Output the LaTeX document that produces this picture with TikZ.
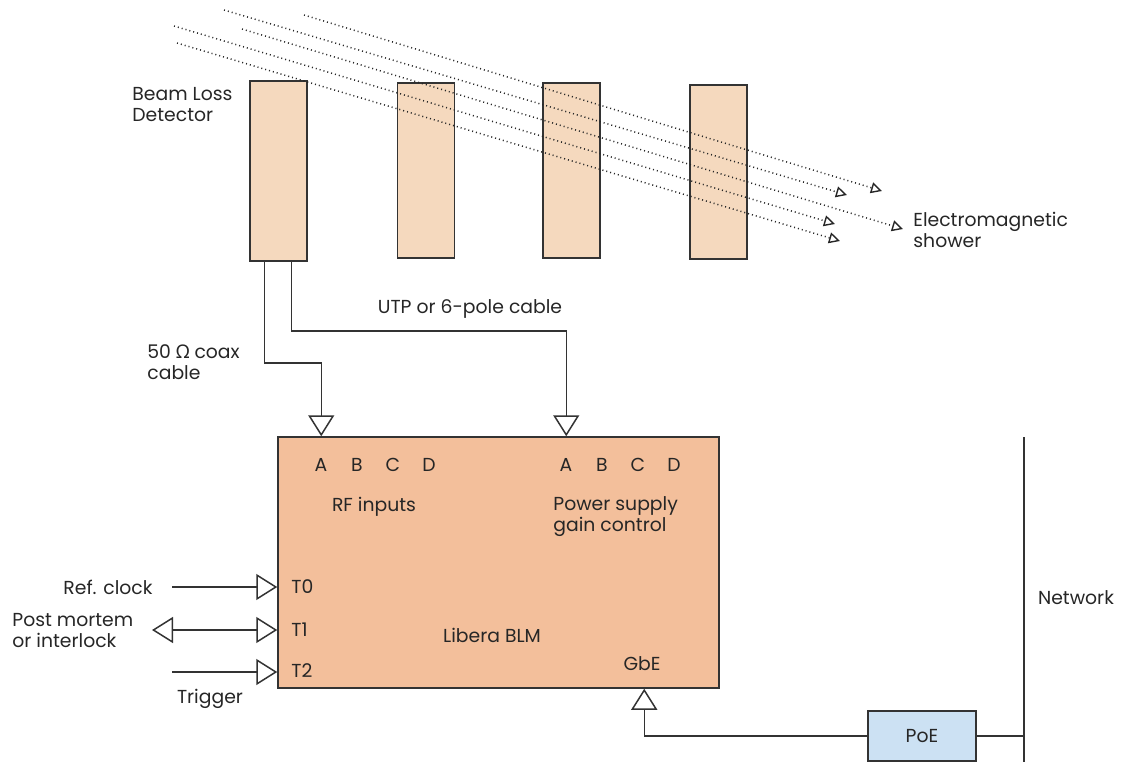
\documentclass[tikz,border=0pt]{standalone}
\usepackage{fontspec}
\setmainfont{Poppins}
\newfontfamily\greekfont{Noto Sans}
\usetikzlibrary{arrows.meta,calc}

\begin{document}
\begin{tikzpicture}[x=0.5pt,y=-0.5pt,
    font=\fontsize{9.4}{10.5}\selectfont,
    every node/.style={text=black!85},
    detbox/.style={draw=black!80, fill=detcolor, line width=0.7pt, minimum width=28.5pt, minimum height=88pt, inner sep=0pt},
    cable/.style={draw=black!80, line width=0.75pt},
    bigtip/.style={-{Triangle[open, length=10.5pt, width=13pt, line width=0.75pt]}},
    bothtip/.style={{Triangle[open, length=10.5pt, width=13pt, line width=0.75pt]}-{Triangle[open, length=10.5pt, width=13pt, line width=0.75pt]}},
    shower/.style={draw=black!85, line width=0.75pt, dash pattern=on 0.5pt off 1.5pt,
        -{Triangle[open, length=5.5pt, width=5.5pt, line width=0.7pt, line cap=butt]}},
    lbl/.style={align=left, inner sep=0pt}]
    % Define the colors
    \definecolor{detcolor}{RGB}{245, 217, 190}
    \definecolor{liberacolor}{RGB}{243, 191, 155}
    \definecolor{poecolor}{RGB}{204, 225, 243}

    \useasboundingbox (0,0) rectangle (1126,762);

    % Draw the Beam Loss Detectors
    \node[detbox, minimum height=90pt] (det1) at (278.5,171) {};
    \node[detbox, minimum height=87.5pt] (det2) at (426,170.5) {};
    \node[detbox, minimum height=87.5pt] (det3) at (571.5,170.5) {};
    \node[detbox, minimum height=87pt] (det4) at (718.5,172) {};
    \node[lbl, anchor=west] (detlabel) at (132,105) {Beam Loss\\Detector};

    % Draw the shower lines
    \coordinate (s1) at (304,15);   \coordinate (e1) at (882,191);
    \coordinate (s2) at (224,10);   \coordinate (e2) at (847,195);
    \coordinate (s3) at (242,29);   \coordinate (e3) at (903,229);
    \coordinate (s4) at (174,26);   \coordinate (e4) at (835,224);
    \coordinate (s5) at (177,43);   \coordinate (e5) at (840,241);
    \foreach \i in {1,...,5}
        \draw[shower] (s\i) -- (e\i);
    \node[lbl, anchor=west] (showerlabel) at (913,230) {Electromagnetic\\shower};

    % Draw the Libera BLM box
    \node[draw=black!80, fill=liberacolor, line width=0.75pt, minimum width=220.5pt, minimum height=125.5pt, inner sep=0pt] (libera) at (498.5,562.5) {};
    \node (bplbl) at (492,635) {Libera BLM};
    \foreach \l [count=\i from 0] in {A,B,C,D} {
        \node (rf\l) at (321+36*\i,465) {\l};
        \node (ps\l) at (566+36*\i,465) {\l};
    }
    \node (rflabel) at (374,507) {RF inputs};
    \node[lbl, anchor=west] (pslabel) at (553,517) {Power supply\\gain control};
    \node[anchor=west, inner sep=0pt] (t0) at (291,587) {T0};
    \node[anchor=west, inner sep=0pt] (t1) at (291,630) {T1};
    \node[anchor=west, inner sep=0pt] (t2) at (291,671) {T2};
    \node (gbe) at (642,664) {GbE};

    % Draw the cables from the detector
    \coordinate (coaxout) at ($(det1.south west)+(15,0)$);
    \coordinate (utpout) at ($(det1.south west)+(42,0)$);
    \coordinate (rfin) at ($(libera.north west)+(44,0)$);
    \coordinate (psin) at ($(libera.north west)+(289,0)$);
    \draw[cable, bigtip] (coaxout) |- (rfin |- 0,363) -- (rfin);
    \draw[cable, bigtip] (utpout) |- (psin |- 0,331) -- (psin);
    \node[lbl, anchor=west] (coaxlabel) at (147,362) {50 {\greekfont Ω} coax\\cable};
    \node (utplabel) at (470,309) {UTP or 6-pole cable};

    % Draw the timing inputs
    \coordinate (clkin) at (172,587);
    \coordinate (pmout) at (152,630);
    \coordinate (trgin) at (172,672);
    \draw[cable, bigtip] (clkin) -- (clkin -| libera.west);
    \draw[cable, bothtip] (pmout) -- (pmout -| libera.west);
    \draw[cable, bigtip] (trgin) -- (trgin -| libera.west);
    \node (clklabel) at (108,587) {Ref. clock};
    \node[lbl, anchor=west] (pmlabel) at (12,631) {Post mortem\\or interlock};
    \node (trglabel) at (210,699) {Trigger};

    % Draw the network and PoE
    \node[draw=black!80, fill=poecolor, line width=0.75pt, minimum width=54pt, minimum height=25pt, inner sep=0pt] (poe) at (922,736) {PoE};
    \coordinate (nettop) at (1024,437);
    \coordinate (netbot) at (1024,762);
    \draw[cable] (nettop) -- (netbot);
    \draw[cable] (poe.east) -- (poe.east -| nettop);
    \coordinate (gbein) at ($(libera.south west)+(367,0)$);
    \draw[cable, bigtip] (poe.west) -| (gbein);
    \node (netlabel) at (1076,598) {Network};
\end{tikzpicture}
\end{document}
